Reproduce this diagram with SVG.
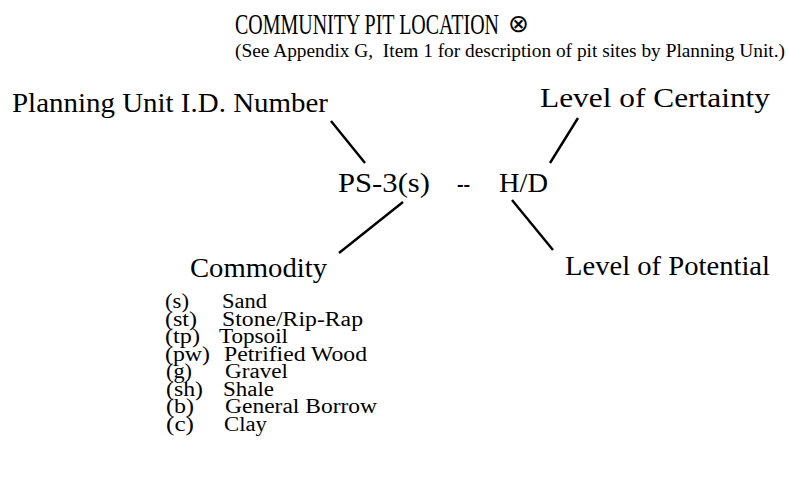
<svg xmlns="http://www.w3.org/2000/svg" width="788" height="484" viewBox="0 0 788 484">
<style>
text{font-family:"Liberation Serif","Times New Roman",serif;fill:#000}
.t{font-size:29px}
.s{font-size:19px}
.l{font-size:28px}
.k{font-size:20px}
line{stroke:#000;stroke-width:2.4;stroke-linecap:butt}
</style>
<rect width="788" height="484" fill="#fff"/>
<g id="title">
<text class="t" x="235" y="34" textLength="264" lengthAdjust="spacingAndGlyphs">COMMUNITY PIT LOCATION</text>
<text x="508" y="32" font-family="DejaVu Sans" font-size="25">⊗</text>
<text class="s" x="235" y="57" textLength="550" lengthAdjust="spacingAndGlyphs">(See Appendix G,&#160; Item 1 for description of pit sites by Planning Unit.)</text>
</g>
<g id="planning-unit"><text class="l" x="12" y="112" textLength="316" lengthAdjust="spacingAndGlyphs">Planning Unit I.D. Number</text></g>
<g id="certainty"><text class="l" x="540" y="107" textLength="230" lengthAdjust="spacingAndGlyphs">Level of Certainty</text></g>
<g id="code">
<text class="l" x="338" y="192" textLength="92" lengthAdjust="spacingAndGlyphs">PS-3(s)</text>
<text class="l" x="457" y="192" textLength="13" lengthAdjust="spacingAndGlyphs">--</text>
<text class="l" x="499" y="192" textLength="49" lengthAdjust="spacingAndGlyphs">H/D</text>
</g>
<g id="commodity"><text class="l" x="190" y="277" textLength="137" lengthAdjust="spacingAndGlyphs">Commodity</text></g>
<g id="potential"><text class="l" x="565" y="275" textLength="205" lengthAdjust="spacingAndGlyphs">Level of Potential</text></g>
<g id="connectors">
<line x1="331" y1="121" x2="365" y2="163"/>
<line x1="550" y1="163" x2="578" y2="118"/>
<line x1="512" y1="200" x2="553" y2="250"/>
<line x1="403" y1="202" x2="339" y2="253"/>
</g>
<g id="legend">
<text class="k" x="165" y="308" textLength="24" lengthAdjust="spacingAndGlyphs">(s)</text><text class="k" x="222" y="308" textLength="45" lengthAdjust="spacingAndGlyphs">Sand</text>
<text class="k" x="165" y="326" textLength="32" lengthAdjust="spacingAndGlyphs">(st)</text><text class="k" x="222" y="326" textLength="141" lengthAdjust="spacingAndGlyphs">Stone/Rip-Rap</text>
<text class="k" x="165" y="343" textLength="35" lengthAdjust="spacingAndGlyphs">(tp)</text><text class="k" x="219" y="343" textLength="69" lengthAdjust="spacingAndGlyphs">Topsoil</text>
<text class="k" x="165" y="361" textLength="45" lengthAdjust="spacingAndGlyphs">(pw)</text><text class="k" x="224" y="361" textLength="143" lengthAdjust="spacingAndGlyphs">Petrified Wood</text>
<text class="k" x="166" y="378" textLength="26" lengthAdjust="spacingAndGlyphs">(g)</text><text class="k" x="225" y="378" textLength="63" lengthAdjust="spacingAndGlyphs">Gravel</text>
<text class="k" x="166" y="396" textLength="37" lengthAdjust="spacingAndGlyphs">(sh)</text><text class="k" x="223" y="396" textLength="51" lengthAdjust="spacingAndGlyphs">Shale</text>
<text class="k" x="166" y="413" textLength="28" lengthAdjust="spacingAndGlyphs">(b)</text><text class="k" x="225" y="413" textLength="152" lengthAdjust="spacingAndGlyphs">General Borrow</text>
<text class="k" x="166" y="431" textLength="28" lengthAdjust="spacingAndGlyphs">(c)</text><text class="k" x="224" y="431" textLength="43" lengthAdjust="spacingAndGlyphs">Clay</text>
</g>
</svg>
